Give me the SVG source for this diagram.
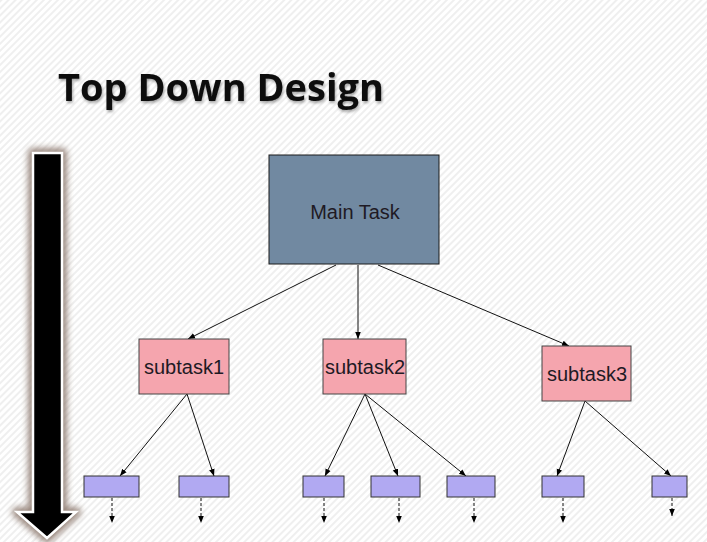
<svg xmlns="http://www.w3.org/2000/svg" width="707" height="542" viewBox="0 0 707 542">
<defs>
<pattern id="stripes" width="5" height="5" patternUnits="userSpaceOnUse" patternTransform="rotate(45)">
<rect width="5" height="5" fill="#ffffff"/>
<line x1="1" y1="0" x2="1" y2="5" stroke="#ececec" stroke-width="1.6"/>
</pattern>
<filter id="glow" x="-50%" y="-10%" width="200%" height="120%">
<feGaussianBlur stdDeviation="3"/>
</filter>
<filter id="tshadow" x="-5%" y="-20%" width="110%" height="140%">
<feGaussianBlur in="SourceAlpha" stdDeviation="1.5"/>
<feOffset dx="1" dy="2" result="b"/>
<feComponentTransfer><feFuncA type="linear" slope="0.35"/></feComponentTransfer>
<feMerge><feMergeNode/><feMergeNode in="SourceGraphic"/></feMerge>
</filter>
<marker id="ah" viewBox="0 0 10 10" refX="10" refY="5" markerWidth="7" markerHeight="7" orient="auto" markerUnits="userSpaceOnUse">
<path d="M0,1 L10,5 L0,9 z" fill="#000"/>
</marker>
</defs>
<style>
.conn{stroke:#111;stroke-width:1;fill:none;marker-end:url(#ah)}
.dash{stroke:#111;stroke-width:1;fill:none;stroke-dasharray:3,2;marker-end:url(#ah)}
.main{fill:#7189a1;stroke:#1a1a1a;stroke-width:1}
.sub{fill:#f5a5ae;stroke:#444;stroke-width:1}
.leaf{fill:#b1a9f2;stroke:#333;stroke-width:1}
.lbl{font-family:"Liberation Sans",Arial,sans-serif;fill:#1f1a24;text-anchor:middle}
</style>
<rect width="707" height="542" fill="url(#stripes)"/>
<text x="58" y="101" font-family="'Open Sans',sans-serif" font-weight="bold" font-size="38" fill="#0a0a0a" filter="url(#tshadow)">Top Down Design</text>
<g id="bigarrow">
<path d="M33,153 L62,153 L62,512 L76,512 L47,538 L17,512 L33,512 z" fill="none" stroke="#8a766a" stroke-width="10" stroke-linejoin="round" filter="url(#glow)" opacity="0.85"/>
<path d="M33,153 L62,153 L62,512 L76,512 L47,538 L17,512 L33,512 z" fill="#000" stroke="#ffffff" stroke-width="2.5"/>
</g>
<g id="connectors">
<line class="conn" x1="336" y1="265" x2="188" y2="339"/>
<line class="conn" x1="358" y1="265" x2="358" y2="339"/>
<line class="conn" x1="378" y1="265" x2="569" y2="346"/>
<line class="conn" x1="187" y1="394" x2="120" y2="476"/>
<line class="conn" x1="187" y1="394" x2="214" y2="476"/>
<line class="conn" x1="365" y1="394" x2="325" y2="476"/>
<line class="conn" x1="365" y1="394" x2="398" y2="476"/>
<line class="conn" x1="365" y1="394" x2="466" y2="476"/>
<line class="conn" x1="585" y1="401" x2="557" y2="476"/>
<line class="conn" x1="585" y1="401" x2="671" y2="476"/>
<line class="dash" x1="112" y1="498" x2="112" y2="523"/>
<line class="dash" x1="201" y1="498" x2="201" y2="523"/>
<line class="dash" x1="324" y1="498" x2="324" y2="523"/>
<line class="dash" x1="399" y1="498" x2="399" y2="523"/>
<line class="dash" x1="474" y1="498" x2="474" y2="523"/>
<line class="dash" x1="563" y1="498" x2="563" y2="523"/>
<line class="dash" x1="672" y1="498" x2="672" y2="516"/>
</g>
<g id="main-task">
<rect class="main" x="269" y="155" width="170" height="109"/>
<text class="lbl" x="355" y="219" font-size="20">Main Task</text>
</g>
<g id="subtask1">
<rect class="sub" x="139" y="339" width="90" height="55"/>
<text class="lbl" x="184" y="374" font-size="20">subtask1</text>
</g>
<g id="subtask2">
<rect class="sub" x="323" y="339" width="83" height="55"/>
<text class="lbl" x="365" y="374" font-size="20">subtask2</text>
</g>
<g id="subtask3">
<rect class="sub" x="542" y="346" width="89" height="55"/>
<text class="lbl" x="587" y="381" font-size="20">subtask3</text>
</g>
<g id="leaf1"><rect class="leaf" x="84" y="476" width="55" height="21"/></g>
<g id="leaf2"><rect class="leaf" x="179" y="476" width="50" height="21"/></g>
<g id="leaf3"><rect class="leaf" x="303" y="476" width="41" height="21"/></g>
<g id="leaf4"><rect class="leaf" x="371" y="476" width="49" height="21"/></g>
<g id="leaf5"><rect class="leaf" x="447" y="476" width="48" height="21"/></g>
<g id="leaf6"><rect class="leaf" x="542" y="476" width="42" height="21"/></g>
<g id="leaf7"><rect class="leaf" x="652" y="476" width="35" height="21"/></g>
</svg>
